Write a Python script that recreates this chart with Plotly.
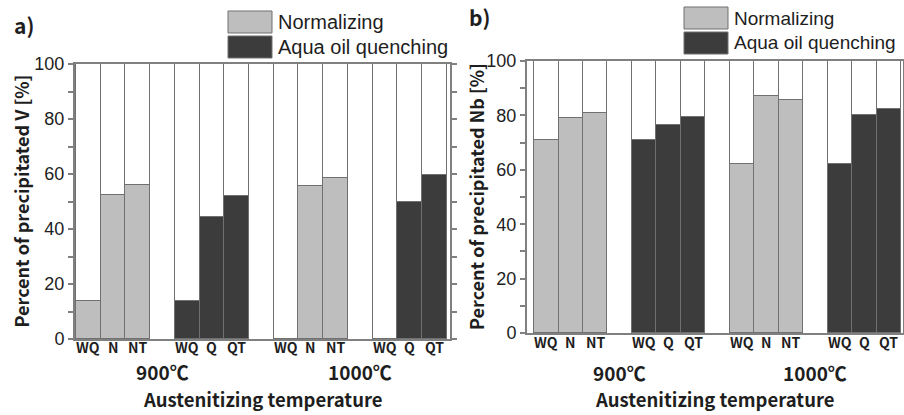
import plotly.graph_objects as go

# ---------------- data ----------------
temperatures = ["900℃", "1000℃"]
norm_labels = ["WQ", "N", "NT"]
quench_labels = ["WQ", "Q", "QT"]
series_names = ["Normalizing", "Aqua oil quenching"]

# precipitated V [%]
v_norm_900 = [14, 52.5, 56]
v_norm_1000 = [0, 55.5, 58.5]
v_quench_900 = [14, 44.5, 52]
v_quench_1000 = [0, 50, 59.5]

# precipitated Nb [%]
nb_norm_900 = [71, 79, 81]
nb_norm_1000 = [62, 87, 85.5]
nb_quench_900 = [71, 76.5, 79.5]
nb_quench_1000 = [62, 80, 82.5]

y_titles = ["Percent of precipitated V [%]", "Percent of precipitated Nb [%]"]
x_title = "Austenitizing temperature"
panel_tags = ["a)", "b)"]

# ---------------- style ----------------
W, H = 904, 415
C_NORM = "#bebebe"
C_QUENCH = "#3c3c3c"
C_EDGE = "#707070"
C_AXIS = "#808080"
C_TEXT = "#1e1e1e"
F_NUM = "Liberation Sans, Arial, sans-serif"
F_LAB = "Noto Sans CJK KR, Noto Sans, sans-serif"

def px(x):
    return x / W

def py(y):
    return (H - y) / H

fig = go.Figure()

panels = [
    dict(norm=[v_norm_900, v_norm_1000], quench=[v_quench_900, v_quench_1000],
         xdom=[75, 450], ydom=[339, 64], xr=[-0.54, 14.63], xa="x", ya="y",
         tick_y=347, temp_y=371, title_y=399, ytitle_x=20, tag=(24, 25),
         leg=(228, 11), legfont=20),
    dict(norm=[nb_norm_900, nb_norm_1000], quench=[nb_quench_900, nb_quench_1000],
         xdom=[527, 903], ydom=[333, 61], xr=[-0.79, 14.58], xa="x2", ya="y2",
         tick_y=342, temp_y=372, title_y=399, ytitle_x=476, tag=(479, 17),
         leg=(684, 7), legfont=19),
]

annotations = []
shapes = []

for k, p in enumerate(panels):
    # group order: 900 N, 900 Q, 1000 N, 1000 Q ; each group of 3 + 1 gap slot
    groups = [(p["norm"][0], norm_labels, 0), (p["quench"][0], quench_labels, 1),
              (p["norm"][1], norm_labels, 0), (p["quench"][1], quench_labels, 1)]
    xs = [[], []]
    ys = [[], []]
    allx, rest = [], []
    tickvals, ticktext = [], []
    for g, (vals, labs, kind) in enumerate(groups):
        for i, v in enumerate(vals):
            pos = g * 4 + i
            xs[kind].append(pos)
            ys[kind].append(v)
            allx.append(pos)
            rest.append(100 - v)
            tickvals.append(pos)
            ticktext.append(labs[i])
    for kind, col in enumerate([C_NORM, C_QUENCH]):
        fig.add_trace(go.Bar(x=xs[kind], y=ys[kind], width=1, name=series_names[kind],
                             marker=dict(color=col, line=dict(color=C_EDGE, width=1.5)),
                             xaxis=p["xa"], yaxis=p["ya"], showlegend=False))
    fig.add_trace(go.Bar(x=allx, y=rest, width=1, name="remainder",
                         marker=dict(color="white", line=dict(color=C_EDGE, width=1.5)),
                         xaxis=p["xa"], yaxis=p["ya"], showlegend=False))

    axn = "" if k == 0 else "2"
    fig.update_layout(**{
        "xaxis" + axn: dict(domain=[px(p["xdom"][0]), px(p["xdom"][1])], range=p["xr"],
                            anchor=p["ya"], tickvals=tickvals, ticktext=ticktext,
                            ticks="", showgrid=False, zeroline=False, automargin=False,
                            showline=True, linecolor=C_AXIS, linewidth=2, mirror=True,
                            showticklabels=False),
        "yaxis" + axn: dict(domain=[py(p["ydom"][0]), py(p["ydom"][1])], range=[0, 100],
                            anchor=p["xa"], tickvals=[0, 20, 40, 60, 80, 100],
                            ticks="outside", ticklen=5, tickwidth=1.5, tickcolor=C_AXIS,
                            minor=dict(tickvals=[10, 30, 50, 70, 90], ticks="outside",
                                       ticklen=5, tickwidth=1.5, tickcolor=C_AXIS),
                            showgrid=False, zeroline=False, showline=True, automargin=False,
                            linecolor=C_AXIS, linewidth=2, mirror="ticks",
                            tickfont=dict(family=F_NUM, size=18, color=C_TEXT)),
    })

    # category tick labels
    for tv, tt in zip(tickvals, ticktext):
        annotations.append(dict(x=tv, y=py(p["tick_y"]), xref=p["xa"], yref="paper",
                                text=tt, showarrow=False, xanchor="center", yanchor="middle",
                                font=dict(family=F_LAB, size=14, color=C_TEXT, weight="bold")))
    # temperature labels, centred on the gap slot between the two treatment groups
    for t, temp in enumerate(temperatures):
        annotations.append(dict(x=t * 8 + 3, y=py(p["temp_y"]), xref=p["xa"], yref="paper",
                                text=temp, showarrow=False, xanchor="center", yanchor="middle",
                                font=dict(family=F_LAB, size=19, color=C_TEXT, weight="bold")))
    annotations.append(dict(x=px((p["xdom"][0] + p["xdom"][1]) / 2), y=py(p["title_y"]),
                            xref="paper", yref="paper", text=x_title, showarrow=False,
                            xanchor="center", yanchor="middle",
                            font=dict(family=F_LAB, size=18.5, color=C_TEXT, weight="bold")))
    annotations.append(dict(x=px(p["ytitle_x"]), y=py((p["ydom"][0] + p["ydom"][1]) / 2),
                            xref="paper", yref="paper", text=y_titles[k], showarrow=False,
                            textangle=-90, xanchor="center", yanchor="middle",
                            font=dict(family=F_LAB, size=18, color=C_TEXT, weight="bold")))
    annotations.append(dict(x=px(p["tag"][0]), y=py(p["tag"][1]), xref="paper", yref="paper",
                            text=panel_tags[k], showarrow=False, xanchor="center",
                            yanchor="middle",
                            font=dict(family=F_LAB, size=21, color=C_TEXT, weight="bold")))
    # legend (drawn boxes + labels)
    lx, ly = p["leg"]
    for j, col in enumerate([C_NORM, C_QUENCH]):
        y0 = ly + j * 25
        shapes.append(dict(type="rect", xref="paper", yref="paper",
                           x0=px(lx), x1=px(lx + 44), y0=py(y0 + 22), y1=py(y0),
                           fillcolor=col, line=dict(color=C_EDGE, width=1)))
        annotations.append(dict(x=px(lx + 48), y=py(y0 + 11), xref="paper", yref="paper",
                                text=series_names[j], showarrow=False, xanchor="left",
                                yanchor="middle",
                                font=dict(family=F_NUM, size=p["legfont"], color=C_TEXT)))

fig.update_layout(
    width=W, height=H, margin=dict(l=0, r=0, t=0, b=0, pad=0, autoexpand=False),
    barmode="stack", bargap=0,
    paper_bgcolor="white", plot_bgcolor="white",
    showlegend=False, annotations=annotations, shapes=shapes,
)

fig.write_html("out.html")
